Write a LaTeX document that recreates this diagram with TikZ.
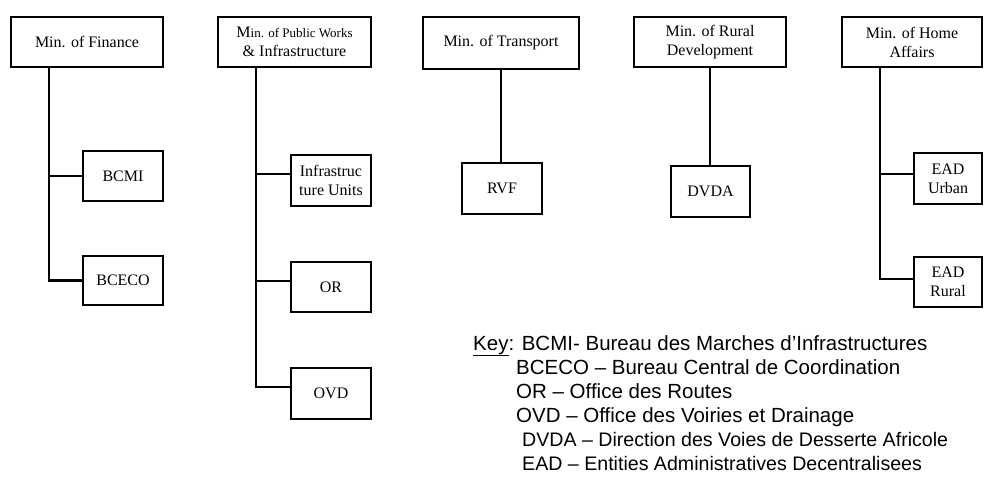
\documentclass[tikz,border=0pt]{standalone}
\usepackage{fontspec}
\setmainfont{Liberation Serif}
\newfontfamily\keyfont{Liberation Sans}
\tikzset{
  orgbox/.style={draw, rectangle, line width=2.6pt, align=center, inner sep=1pt,
    font=\fontsize{16}{19}\selectfont},
  link/.style={line width=2.2pt}
}
\begin{document}
\begin{tikzpicture}[x=1pt, y=-1pt]
\useasboundingbox (0,0) rectangle (984,495);
\node[orgbox, minimum width=152pt, minimum height=50pt] (fin) at (87,42) {Min. of Finance};
\node[orgbox, minimum width=153pt, minimum height=50pt] (pw) at (294.5,42) {{\fontsize{16}{19}\selectfont M}\fontsize{13}{19}\selectfont in. of Public Works\\ \& Infrastructure};
\node[orgbox, minimum width=156pt, minimum height=52pt] (tr) at (501,43) {Min. of Transport};
\node[orgbox, minimum width=152pt, minimum height=50pt] (rd) at (710,42) {Min. of Rural\\ Development};
\node[orgbox, minimum width=140pt, minimum height=50pt] (ha) at (912,42) {Min. of Home\\ Affairs};
\node[orgbox, minimum width=80pt, minimum height=50pt] (bcmi) at (123,176) {BCMI};
\node[orgbox, minimum width=80pt, minimum height=49pt] (bceco) at (123,280.5) {BCECO};
\node[orgbox, minimum width=80pt, minimum height=51pt] (infra) at (331,180.5) {Infrastruc\\ ture Units};
\node[orgbox, minimum width=80pt, minimum height=50pt] (or) at (331,287) {OR};
\node[orgbox, minimum width=80pt, minimum height=51pt] (ovd) at (331,393.5) {OVD};
\node[orgbox, minimum width=80pt, minimum height=51pt] (rvf) at (502,188.5) {RVF};
\node[orgbox, minimum width=79pt, minimum height=51pt] (dvda) at (710.5,191.5) {DVDA};
\node[orgbox, minimum width=68pt, minimum height=51pt] (eadu) at (948,178.5) {EAD\\ Urban};
\node[orgbox, minimum width=68pt, minimum height=50pt] (eadr) at (948,282) {EAD\\ Rural};
\coordinate (finT) at (49,67);
\coordinate (pwT) at (256,67);
\coordinate (haT) at (880,67);
\coordinate (infraL) at ([yshift=6.5pt]infra.west);
\coordinate (orL) at ([yshift=6pt]or.west);
\coordinate (ovdL) at ([yshift=6.5pt]ovd.west);
\coordinate (eaduL) at ([yshift=4.5pt]eadu.west);
\coordinate (eadrL) at ([yshift=3pt]eadr.west);
\draw[link] (finT) |- (bceco.west);
\draw[link] (finT |- bcmi.west) -- (bcmi.west);
\draw[link] (pwT) |- (ovdL);
\draw[link] (pwT |- infraL) -- (infraL);
\draw[link] (pwT |- orL) -- (orL);
\draw[link] (tr.south) -- (tr.south |- rvf.north);
\draw[link] (rd.south) -- (rd.south |- dvda.north);
\draw[link] (haT) |- (eadrL);
\draw[link] (haT |- eaduL) -- (eaduL);
\node[anchor=base west, align=left, inner sep=0pt, font=\keyfont\fontsize{20.5}{24}\selectfont] (key) at (473,470)
  {\underline{Key}: BCMI- Bureau des Marches d’Infrastructures\\
   \hspace*{43pt}BCECO – Bureau Central de Coordination\\
   \hspace*{43pt}OR – Office des Routes\\
   \hspace*{43pt}OVD – Office des Voiries et Drainage\\
   \hspace*{49pt}{\fontsize{19.6}{24}\selectfont DVDA – Direction des Voies de Desserte Africole}\\
   \hspace*{49pt}{\fontsize{19.6}{24}\selectfont EAD – Entities Administratives Decentralisees}};
\end{tikzpicture}
\end{document}
